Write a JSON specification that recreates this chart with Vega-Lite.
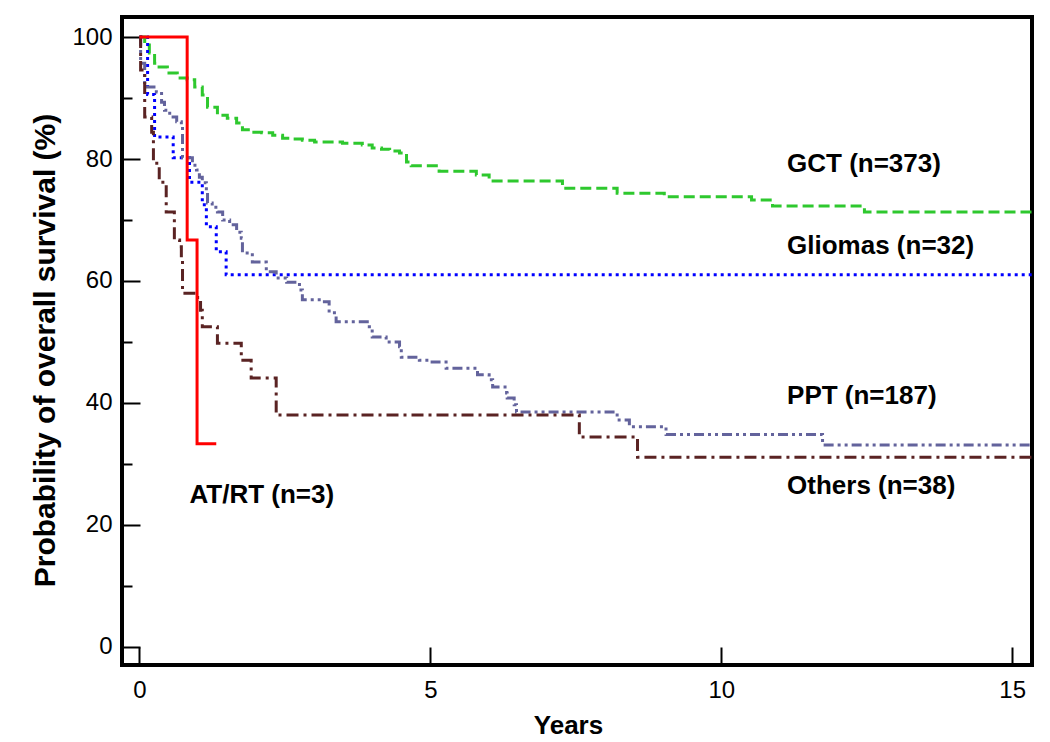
{
  "$schema": "https://vega.github.io/schema/vega-lite/v6.json",
  "width": 910,
  "height": 648,
  "autosize": "none",
  "padding": {"left": 122, "top": 17, "right": 18, "bottom": 77},
  "background": "white",
  "config": {
    "view": {"stroke": "black", "strokeWidth": 4},
    "font": "Liberation Sans"
  },
  "datasets": {
    "curves": [
      {"group": "GCT", "t": 0, "s": 100},
      {"group": "GCT", "t": 0.09, "s": 98.7},
      {"group": "GCT", "t": 0.17, "s": 97.4},
      {"group": "GCT", "t": 0.26, "s": 95.7},
      {"group": "GCT", "t": 0.31, "s": 95.1},
      {"group": "GCT", "t": 0.48, "s": 94.1},
      {"group": "GCT", "t": 0.65, "s": 93.3},
      {"group": "GCT", "t": 0.82, "s": 93.0},
      {"group": "GCT", "t": 0.95, "s": 91.8},
      {"group": "GCT", "t": 1.08, "s": 90.5},
      {"group": "GCT", "t": 1.17, "s": 88.5},
      {"group": "GCT", "t": 1.34, "s": 87.2},
      {"group": "GCT", "t": 1.51, "s": 86.7},
      {"group": "GCT", "t": 1.67, "s": 85.9},
      {"group": "GCT", "t": 1.77, "s": 84.8},
      {"group": "GCT", "t": 1.94, "s": 84.4},
      {"group": "GCT", "t": 2.1, "s": 84.3},
      {"group": "GCT", "t": 2.29, "s": 83.9},
      {"group": "GCT", "t": 2.46, "s": 83.4},
      {"group": "GCT", "t": 2.63, "s": 83.3},
      {"group": "GCT", "t": 2.8, "s": 83.1},
      {"group": "GCT", "t": 3.01, "s": 82.8},
      {"group": "GCT", "t": 3.49, "s": 82.6},
      {"group": "GCT", "t": 3.83, "s": 82.3},
      {"group": "GCT", "t": 4.0, "s": 81.8},
      {"group": "GCT", "t": 4.16, "s": 81.6},
      {"group": "GCT", "t": 4.3, "s": 81.3},
      {"group": "GCT", "t": 4.47, "s": 81.0},
      {"group": "GCT", "t": 4.59, "s": 79.5},
      {"group": "GCT", "t": 4.67, "s": 78.9},
      {"group": "GCT", "t": 5.15, "s": 78.0},
      {"group": "GCT", "t": 5.79, "s": 77.4},
      {"group": "GCT", "t": 6.01, "s": 76.4},
      {"group": "GCT", "t": 7.27, "s": 75.2},
      {"group": "GCT", "t": 8.21, "s": 74.4},
      {"group": "GCT", "t": 9.02, "s": 73.8},
      {"group": "GCT", "t": 10.52, "s": 73.3},
      {"group": "GCT", "t": 10.88, "s": 72.3},
      {"group": "GCT", "t": 12.46, "s": 71.3},
      {"group": "GCT", "t": 15.34, "s": 71.3},
      {"group": "Gliomas", "t": 0, "s": 100},
      {"group": "Gliomas", "t": 0.14, "s": 90.6},
      {"group": "Gliomas", "t": 0.26, "s": 83.6},
      {"group": "Gliomas", "t": 0.58, "s": 80.2},
      {"group": "Gliomas", "t": 0.86, "s": 76.2},
      {"group": "Gliomas", "t": 1.08, "s": 72.5},
      {"group": "Gliomas", "t": 1.15, "s": 68.9},
      {"group": "Gliomas", "t": 1.32, "s": 64.8},
      {"group": "Gliomas", "t": 1.49, "s": 61.0},
      {"group": "Gliomas", "t": 15.34, "s": 61.0},
      {"group": "PPT", "t": 0, "s": 100},
      {"group": "PPT", "t": 0.02, "s": 95.7},
      {"group": "PPT", "t": 0.09, "s": 91.8},
      {"group": "PPT", "t": 0.29, "s": 91.0},
      {"group": "PPT", "t": 0.38, "s": 89.3},
      {"group": "PPT", "t": 0.43, "s": 88.0},
      {"group": "PPT", "t": 0.52, "s": 86.9},
      {"group": "PPT", "t": 0.64, "s": 86.1},
      {"group": "PPT", "t": 0.72, "s": 85.6},
      {"group": "PPT", "t": 0.74, "s": 80.2},
      {"group": "PPT", "t": 0.91, "s": 79.0},
      {"group": "PPT", "t": 0.98, "s": 78.2},
      {"group": "PPT", "t": 1.03, "s": 77.0},
      {"group": "PPT", "t": 1.08, "s": 76.1},
      {"group": "PPT", "t": 1.15, "s": 74.6},
      {"group": "PPT", "t": 1.17, "s": 72.8},
      {"group": "PPT", "t": 1.25, "s": 72.1},
      {"group": "PPT", "t": 1.34, "s": 71.3},
      {"group": "PPT", "t": 1.43, "s": 70.0},
      {"group": "PPT", "t": 1.55, "s": 69.2},
      {"group": "PPT", "t": 1.67, "s": 68.0},
      {"group": "PPT", "t": 1.75, "s": 67.0},
      {"group": "PPT", "t": 1.77, "s": 64.6},
      {"group": "PPT", "t": 1.94, "s": 63.1},
      {"group": "PPT", "t": 2.18, "s": 61.5},
      {"group": "PPT", "t": 2.35, "s": 60.5},
      {"group": "PPT", "t": 2.53, "s": 59.8},
      {"group": "PPT", "t": 2.75, "s": 58.5},
      {"group": "PPT", "t": 2.8, "s": 56.9},
      {"group": "PPT", "t": 3.14, "s": 56.6},
      {"group": "PPT", "t": 3.26, "s": 54.8},
      {"group": "PPT", "t": 3.38, "s": 53.3},
      {"group": "PPT", "t": 3.95, "s": 52.5},
      {"group": "PPT", "t": 4.0, "s": 50.8},
      {"group": "PPT", "t": 4.24, "s": 50.0},
      {"group": "PPT", "t": 4.47, "s": 49.2},
      {"group": "PPT", "t": 4.5, "s": 47.5},
      {"group": "PPT", "t": 4.81, "s": 47.0},
      {"group": "PPT", "t": 5.03, "s": 46.7},
      {"group": "PPT", "t": 5.27, "s": 45.7},
      {"group": "PPT", "t": 5.81, "s": 44.6},
      {"group": "PPT", "t": 6.01, "s": 43.8},
      {"group": "PPT", "t": 6.07, "s": 42.6},
      {"group": "PPT", "t": 6.31, "s": 41.6},
      {"group": "PPT", "t": 6.32, "s": 40.8},
      {"group": "PPT", "t": 6.44, "s": 39.7},
      {"group": "PPT", "t": 6.48, "s": 38.5},
      {"group": "PPT", "t": 8.21, "s": 37.2},
      {"group": "PPT", "t": 8.42, "s": 36.1},
      {"group": "PPT", "t": 9.05, "s": 34.8},
      {"group": "PPT", "t": 11.74, "s": 33.1},
      {"group": "PPT", "t": 15.34, "s": 33.1},
      {"group": "Others", "t": 0, "s": 100},
      {"group": "Others", "t": 0.02, "s": 94.6},
      {"group": "Others", "t": 0.09, "s": 86.9},
      {"group": "Others", "t": 0.21, "s": 84.4},
      {"group": "Others", "t": 0.24, "s": 79.3},
      {"group": "Others", "t": 0.34, "s": 76.2},
      {"group": "Others", "t": 0.46, "s": 71.3},
      {"group": "Others", "t": 0.6, "s": 66.7},
      {"group": "Others", "t": 0.69, "s": 65.6},
      {"group": "Others", "t": 0.72, "s": 63.4},
      {"group": "Others", "t": 0.74, "s": 58.0},
      {"group": "Others", "t": 1.0, "s": 56.9},
      {"group": "Others", "t": 1.05, "s": 55.2},
      {"group": "Others", "t": 1.08, "s": 52.5},
      {"group": "Others", "t": 1.34, "s": 49.8},
      {"group": "Others", "t": 1.75, "s": 47.0},
      {"group": "Others", "t": 1.92, "s": 44.1},
      {"group": "Others", "t": 2.35, "s": 38.0},
      {"group": "Others", "t": 7.56, "s": 34.4},
      {"group": "Others", "t": 8.56, "s": 31.1},
      {"group": "Others", "t": 15.34, "s": 31.1},
      {"group": "AT/RT", "t": 0, "s": 100},
      {"group": "AT/RT", "t": 0.82, "s": 66.7},
      {"group": "AT/RT", "t": 0.99, "s": 33.3},
      {"group": "AT/RT", "t": 1.32, "s": 33.3}
    ],
    "labels": [
      {"label": "GCT (n=373)", "t": 11.13, "s": 79.2},
      {"label": "Gliomas (n=32)", "t": 11.13, "s": 65.7},
      {"label": "PPT (n=187)", "t": 11.13, "s": 41.1},
      {"label": "Others (n=38)", "t": 11.13, "s": 26.4},
      {"label": "AT/RT (n=3)", "t": 0.86, "s": 24.9}
    ]
  },
  "layer": [
    {
      "data": {"name": "curves"},
      "mark": {"type": "line", "interpolate": "step-after", "strokeWidth": 3, "clip": true},
      "encoding": {
        "x": {
          "field": "t", "type": "quantitative",
          "scale": {"domain": [-0.3, 15.34], "nice": false, "zero": false},
          "axis": {
            "values": [0, 5, 10, 15], "format": "d",
            "tickSize": -18, "tickWidth": 2, "tickColor": "black",
            "domain": false, "grid": false,
            "labelFontSize": 24, "labelColor": "black", "labelPadding": 31,
            "labelFont": "Liberation Sans",
            "title": "Years", "titleFontSize": 26, "titleFontWeight": "bold",
            "titleColor": "black", "titleFont": "Liberation Sans",
            "titleX": 446, "titleY": 68, "titleBaseline": "alphabetic"
          }
        },
        "y": {
          "field": "s", "type": "quantitative",
          "scale": {"domain": [-3, 103.3], "nice": false, "zero": false},
          "axis": {
            "values": [0, 10, 20, 30, 40, 50, 60, 70, 80, 90, 100], "format": "d",
            "labelExpr": "datum.value % 20 === 0 ? datum.label : ''",
            "tickSize": {"condition": {"test": "datum.value % 20 !== 0", "value": -10}, "value": -18},
            "tickWidth": 2, "tickColor": "black",
            "domain": false, "grid": false,
            "labelFontSize": 24, "labelColor": "black", "labelPadding": 28,
            "labelFont": "Liberation Sans",
            "title": "Probability of overall survival (%)", "titleFontSize": 30,
            "titleFontWeight": "bold", "titleColor": "black", "titleFont": "Liberation Sans",
            "titleX": -68, "titleY": 333, "titleBaseline": "alphabetic"
          }
        },
        "color": {
          "field": "group", "type": "nominal",
          "scale": {"domain": ["GCT", "Gliomas", "PPT", "Others", "AT/RT"],
                    "range": ["#2ec82e", "#0000ff", "#63639c", "#5a2323", "#ff0000"]},
          "legend": null
        },
        "strokeDash": {
          "field": "group", "type": "nominal",
          "scale": {"domain": ["GCT", "Gliomas", "PPT", "Others", "AT/RT"],
                    "range": [[11, 5], [3, 4], [10, 4, 3, 4, 3, 4], [12, 5, 3, 5], [1, 0]]},
          "legend": null
        }
      }
    },
    {
      "data": {"name": "labels"},
      "mark": {"type": "text", "align": "left", "baseline": "middle", "fontSize": 26,
               "fontWeight": "bold", "font": "Liberation Sans", "color": "black"},
      "encoding": {
        "x": {"field": "t", "type": "quantitative"},
        "y": {"field": "s", "type": "quantitative"},
        "text": {"field": "label"}
      }
    }
  ]
}
